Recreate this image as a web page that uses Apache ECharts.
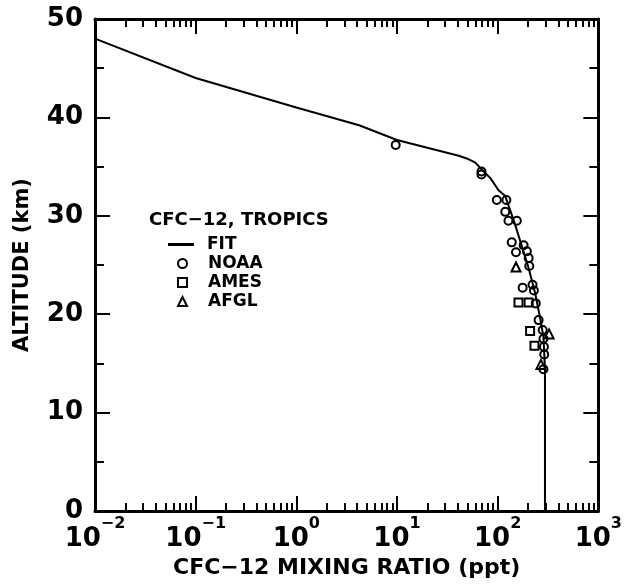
<!DOCTYPE html>
<html>
<head>
<meta charset="utf-8">
<script src="https://cdn.jsdelivr.net/npm/echarts@6/dist/echarts.min.js"></script>
<style>html,body{margin:0;padding:0;background:#fff;}#c{width:625px;height:584px;}</style>
</head>
<body>
<div id="c"></div>
<script>
// ---- data ----
const fitX = [0.01, 0.1, 1, 4.2, 10, 41, 50, 60, 68, 85, 102, 119, 149, 203, 236, 263, 285, 295, 295];
const fitY = [48.0, 44.0, 41.0, 39.2, 37.7, 36.1, 35.8, 35.4, 34.8, 33.8, 32.6, 32.0, 29.1, 24.7, 22.1, 19.7, 17.7, 14.4, 0];

const noaaX = [9.7, 69, 69, 98, 122, 119, 128, 155, 138, 181, 152, 195, 203, 206, 177, 222, 229, 239, 255, 280, 285, 288, 290, 285];
const noaaY = [37.2, 34.5, 34.2, 31.6, 31.6, 30.4, 29.5, 29.5, 27.3, 27.0, 26.3, 26.4, 25.7, 24.9, 22.7, 23.0, 22.4, 21.1, 19.4, 18.4, 17.5, 16.7, 15.9, 14.4];

const amesX = [161, 203, 210, 232];
const amesY = [21.2, 21.2, 18.3, 16.8];

const afglX = [152, 324, 269];
const afglY = [24.8, 18.0, 14.9];

const xMajorTicks = [0.01, 0.1, 1, 10, 100, 1000];
const yTicks = [0, 10, 20, 30, 40, 50];

const xTitle = 'CFC\u221212 MIXING RATIO (ppt)';
const yTitle = 'ALTITUDE (km)';
const legendTitle = 'CFC\u221212, TROPICS';

// ---- build ----
const FONT = 'DejaVu Sans';
const minorVals = [];
for (let d = -2; d < 3; d++) {
  for (let m = 2; m <= 9; m++) minorVals.push(m * Math.pow(10, d));
}
const pairs = (xs, ys) => xs.map((x, i) => [x, ys[i]]);

function supLabel(v) {
  const e = Math.round(Math.log10(v));
  const s = e < 0 ? '\u2212' + (-e) : String(e);
  return '{b|10}{s|' + s + '}';
}

const axisLineStyle = { color: '#000', width: 3 };
const baseX = {
  type: 'log', logBase: 10, min: 0.01, max: 1000,
  splitLine: { show: false },
  axisLine: { show: true, lineStyle: axisLineStyle }
};
const legendText = { fontFamily: FONT, fontWeight: 'bold', fontSize: 17, color: '#000' };
const markerStyle = { color: 'rgba(255,255,255,0)', borderColor: '#000', borderWidth: 2, opacity: 1 };

const chart = echarts.init(document.getElementById('c'), null, { renderer: 'canvas' });
chart.setOption({
  animation: false,
  backgroundColor: '#fff',
  grid: { left: 95, right: 25, top: 19, bottom: 68, containLabel: false },
  title: {
    text: legendTitle, left: 144, top: 206,
    textStyle: { fontFamily: FONT, fontWeight: 'bold', fontSize: 18, color: '#000' }
  },
  legend: [
    {
      left: 163, top: 231, orient: 'vertical',
      itemWidth: 26, itemHeight: 3, itemGap: 3,
      data: [{ name: 'FIT', icon: 'rect' }],
      textStyle: Object.assign({ padding: [0, 0, 0, 8] }, legendText)
    },
    {
      left: 172, top: 250, orient: 'vertical',
      itemWidth: 9, itemHeight: 9, itemGap: 2,
      symbolKeepAspect: true,
      data: [{ name: 'NOAA' }, { name: 'AMES' }, { name: 'AFGL' }],
      textStyle: Object.assign({ padding: [0, 0, 0, 16] }, legendText)
    }
  ],
  xAxis: [
    Object.assign({}, baseX, {
      position: 'bottom',
      axisTick: { show: true, inside: true, length: 15, lineStyle: { color: '#000', width: 2 }, customValues: xMajorTicks },
      axisLabel: {
        show: true, margin: 5, customValues: xMajorTicks,
        formatter: supLabel,
        rich: {
          b: { fontFamily: FONT, fontWeight: 'bold', fontSize: 26, color: '#000', lineHeight: 36, verticalAlign: 'bottom' },
          s: { fontFamily: FONT, fontWeight: 'bold', fontSize: 16, color: '#000', lineHeight: 16, verticalAlign: 'top' }
        }
      },
      name: xTitle, nameLocation: 'middle', nameGap: 46,
      nameTextStyle: { fontFamily: FONT, fontWeight: 'bold', fontSize: 22, color: '#000' }
    }),
    Object.assign({}, baseX, {
      position: 'bottom',
      axisLine: { show: false },
      axisTick: { show: true, inside: true, length: 8, lineStyle: { color: '#000', width: 2 }, customValues: minorVals },
      axisLabel: { show: false }
    }),
    Object.assign({}, baseX, {
      position: 'top',
      axisTick: { show: true, inside: true, length: 15, lineStyle: { color: '#000', width: 2 }, customValues: xMajorTicks },
      axisLabel: { show: false }
    }),
    Object.assign({}, baseX, {
      position: 'top',
      axisLine: { show: false },
      axisTick: { show: true, inside: true, length: 8, lineStyle: { color: '#000', width: 2 }, customValues: minorVals },
      axisLabel: { show: false }
    })
  ],
  yAxis: [
    {
      type: 'value', min: 0, max: 50, interval: 10, position: 'left',
      splitLine: { show: false },
      axisLine: { show: true, lineStyle: axisLineStyle },
      axisTick: { show: true, inside: true, length: 15, lineStyle: { color: '#000', width: 2 } },
      minorTick: { show: true, splitNumber: 2, length: 9, lineStyle: { color: '#000', width: 2 } },
      axisLabel: { show: true, margin: 12, fontFamily: FONT, fontWeight: 'bold', fontSize: 26, color: '#000',
        customValues: yTicks },
      name: yTitle, nameLocation: 'middle', nameGap: 62,
      nameTextStyle: { fontFamily: FONT, fontWeight: 'bold', fontSize: 21, color: '#000' }
    },
    {
      type: 'value', min: 0, max: 50, interval: 10, position: 'right',
      splitLine: { show: false },
      axisLine: { show: true, lineStyle: axisLineStyle },
      axisTick: { show: true, inside: true, length: 15, lineStyle: { color: '#000', width: 2 } },
      minorTick: { show: true, splitNumber: 2, length: 9, lineStyle: { color: '#000', width: 2 } },
      axisLabel: { show: false }
    }
  ],
  series: [
    {
      name: 'FIT', type: 'line', xAxisIndex: 0, yAxisIndex: 0,
      data: pairs(fitX, fitY), symbol: 'none', smooth: false,
      lineStyle: { color: '#000', width: 2 }, itemStyle: { color: '#000' }, z: 2
    },
    {
      name: 'NOAA', type: 'scatter', xAxisIndex: 0, yAxisIndex: 0,
      data: pairs(noaaX, noaaY), symbol: 'circle', symbolSize: 8,
      itemStyle: markerStyle, z: 3
    },
    {
      name: 'AMES', type: 'scatter', xAxisIndex: 0, yAxisIndex: 0,
      data: pairs(amesX, amesY), symbol: 'rect', symbolSize: 8,
      itemStyle: markerStyle, z: 3
    },
    {
      name: 'AFGL', type: 'scatter', xAxisIndex: 0, yAxisIndex: 0,
      data: pairs(afglX, afglY), symbol: 'triangle', symbolSize: 9,
      itemStyle: markerStyle, z: 3
    }
  ]
});
</script>
</body>
</html>
